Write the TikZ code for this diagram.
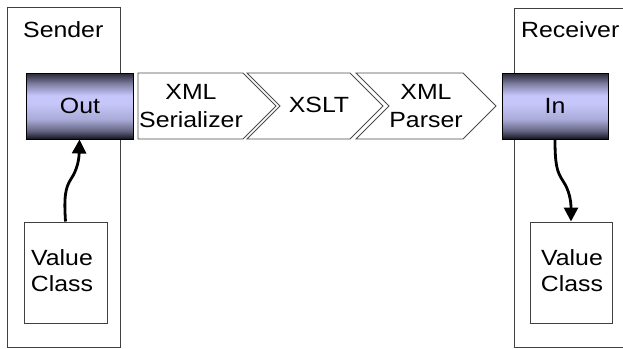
\documentclass[tikz,border=0pt]{standalone}
\usepackage{fontspec}
\setmainfont{Liberation Sans}
\usepackage{graphicx}
\usetikzlibrary{arrows.meta}
\newcommand{\wt}[2][1.13]{\scalebox{#1}[1]{#2}}
\definecolor{gdark}{RGB}{18,18,28}
\definecolor{gtop}{RGB}{40,40,56}
\definecolor{glight}{RGB}{198,198,250}
\pgfdeclareverticalshading{portshade}{100bp}{
  color(0bp)=(gdark); color(25bp)=(gdark); color(31bp)=(gdark!55!glight);
  color(40bp)=(glight!85!gdark); color(52bp)=(glight); color(58bp)=(glight);
  color(66bp)=(glight!60!gtop); color(75bp)=(gtop); color(100bp)=(gtop)}
\tikzset{
  frame/.style={draw=black!75, line width=1pt},
  portbox/.style={draw=black, line width=1pt, shading=portshade},
  stage/.style={draw=black!70, line width=0.8pt, fill=white},
  lbl/.style={font=\fontsize{22}{27}\selectfont, inner sep=0pt, align=center},
  flow/.style={line width=2.8pt, -{Triangle[width=14pt,length=14pt]}},
}
\begin{document}
\begin{tikzpicture}[x=1pt,y=-1pt]
\useasboundingbox (0,0) rectangle (623,348);
% container boxes
\draw[frame] (7,7) rectangle (120,347);
\draw[frame] (624,8) -- (514,8) -- (514,347) -- (624,347);
\node[lbl, anchor=base west] (sender) at (23,37) {\wt{Sender}};
\node[lbl, anchor=base west] (receiver) at (521,37) {\wt{Receiver}};
% value class boxes
\node[frame, draw, minimum width=83pt, minimum height=101pt, inner sep=0pt] (vcs) at (65.5,272.5) {};
\node[lbl] at (62,273) {\wt{\begin{tabular}{@{}c@{}}Value\\[-1pt]Class\end{tabular}}};
\node[frame, draw, minimum width=82pt, minimum height=101pt, inner sep=0pt] (vcr) at (571,272.5) {};
\node[lbl] at (572,273) {\wt{\begin{tabular}{@{}c@{}}Value\\[-1pt]Class\end{tabular}}};
% ports
\node[portbox, minimum width=107pt, minimum height=66pt, inner sep=0pt] (out) at (79.5,106) {};
\node[lbl] at (80,106) {\wt{Out}};
\node[portbox, minimum width=106pt, minimum height=66pt, inner sep=0pt] (in) at (555,106) {};
\node[lbl] at (555,106) {\wt{In}};
% pipeline stages
\draw[stage] (138,73) -- (243,73) -- (276,106) -- (243,139) -- (138,139) -- cycle;
\draw[stage] (247,73) -- (350,73) -- (383,106) -- (350,139) -- (247,139) -- (280,106) -- cycle;
\draw[stage] (356,73) -- (463,73) -- (496,106) -- (463,139) -- (356,139) -- (389,106) -- cycle;
\node[lbl] (ser) at (191,108) {\wt{\begin{tabular}{@{}c@{}}XML\\[1pt]Serializer\end{tabular}}};
\node[lbl] (xslt) at (319,105) {\wt{XSLT}};
\node[lbl] (par) at (426,108) {\wt{\begin{tabular}{@{}c@{}}XML\\[1pt]Parser\end{tabular}}};
% connectors
\draw[flow] (vcs.north) .. controls (64,198) and (65,188) .. (71,179)
  .. controls (77,170) and (79,160) .. (out.south);
\draw[flow] (in.south) .. controls (555,165) and (557,172) .. (563,181)
  .. controls (569,190) and (571,200) .. (vcr.north);
\end{tikzpicture}
\end{document}
